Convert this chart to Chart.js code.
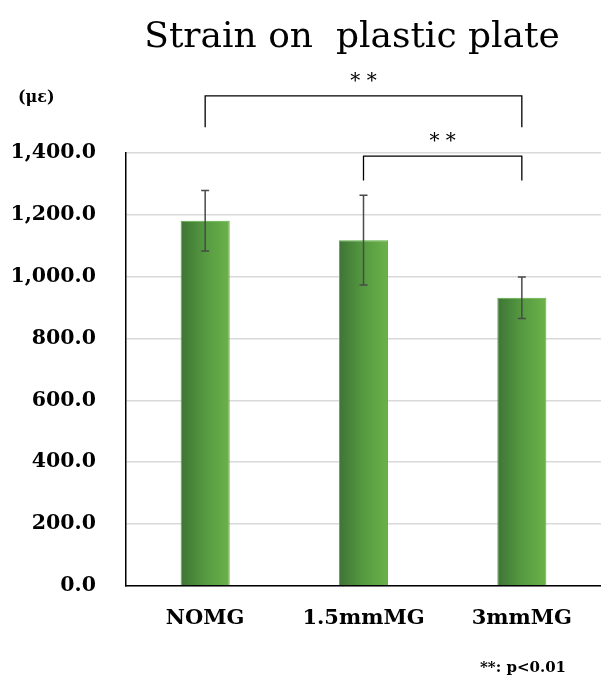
<!DOCTYPE html>
<html>
<head>
<meta charset="utf-8">
<script src="https://cdn.jsdelivr.net/npm/chart.js@4"></script>
<style>
  html, body { margin: 0; padding: 0; background: #fff; }
  #wrap { width: 601px; height: 679px; }
</style>
</head>
<body>
<div id="wrap"><canvas id="strainChart" width="601" height="679"></canvas></div>
<script>
// data
const categories = ['NOMG', '1.5mmMG', '3mmMG'];
const means = [1181, 1118, 932];
const errors = [98, 145, 67];
const yTicks = [0, 200, 400, 600, 800, 1000, 1200, 1400];

// significance brackets (category indices, heights in axis units)
const bracketFrom = [0, 1];
const bracketTo = [2, 2];
const bracketTop = [1585, 1390];
const bracketEnd = [1483, 1311];
const bracketMarks = ['* *', '* *'];

const serif = '"DejaVu Serif", "Liberation Serif", serif';

function barFill(c) {
    const chart = c.chart;
    const xs = chart.scales.x;
    if (!xs || c.dataIndex == null) return '#559a42';
    const cx = xs.getPixelForValue(c.dataIndex);
    const half = xs.width / categories.length * 0.31 / 2;
    if (!isFinite(cx) || !isFinite(half) || half <= 0) return '#559a42';
    const g = chart.ctx.createLinearGradient(cx - half, 0, cx + half, 0);
    g.addColorStop(0, '#3e7435');
    g.addColorStop(0.5, '#559a40');
    g.addColorStop(1, '#6cb24a');
    return g;
}

const extras = {
    id: 'extras',
    afterDatasetsDraw(chart) {
        const { ctx, scales: { x, y } } = chart;
        ctx.save();
        // error bars
        ctx.strokeStyle = '#4a4a4a';
        ctx.lineWidth = 1.5;
        means.forEach((m, i) => {
            const cx = x.getPixelForValue(i);
            const top = y.getPixelForValue(m + errors[i]);
            const bot = y.getPixelForValue(m - errors[i]);
            ctx.beginPath();
            ctx.moveTo(cx, top); ctx.lineTo(cx, bot);
            ctx.moveTo(cx - 4, top); ctx.lineTo(cx + 4, top);
            ctx.moveTo(cx - 4, bot); ctx.lineTo(cx + 4, bot);
            ctx.stroke();
        });
        ctx.restore();
    },
    afterDraw(chart) {
        const { ctx, scales: { x, y } } = chart;
        ctx.save();
        // brackets
        ctx.strokeStyle = '#000';
        ctx.lineWidth = 1.3;
        ctx.fillStyle = '#000';
        ctx.font = '20px ' + serif;
        ctx.textAlign = 'center';
        ctx.textBaseline = 'middle';
        bracketFrom.forEach((f, i) => {
            const x1 = x.getPixelForValue(f);
            const x2 = x.getPixelForValue(bracketTo[i]);
            const yt = y.getPixelForValue(bracketTop[i]);
            const ye = y.getPixelForValue(bracketEnd[i]);
            ctx.beginPath();
            ctx.moveTo(x1, ye); ctx.lineTo(x1, yt); ctx.lineTo(x2, yt); ctx.lineTo(x2, ye);
            ctx.stroke();
            ctx.fillText(bracketMarks[i], (x1 + x2) / 2, yt - 14);
        });
        // title
        ctx.font = '36px ' + serif;
        ctx.fillText('Strain on  plastic plate', 352, 38);
        // unit
        ctx.font = 'bold 16px ' + serif;
        ctx.textAlign = 'left';
        ctx.fillText('(με)', 18, 98);
        // footnote
        ctx.font = 'bold 15px ' + serif;
        ctx.textAlign = 'right';
        ctx.fillText('**: p<0.01', 566, 668);
        ctx.restore();
    }
};

new Chart(document.getElementById('strainChart'), {
    type: 'bar',
    data: {
        labels: categories,
        datasets: [{
            data: means,
            backgroundColor: barFill,
            borderColor: '#5aae3e',
            borderWidth: 1,
            categoryPercentage: 1,
            barPercentage: 0.31
        }]
    },
    options: {
        responsive: false,
        animation: false,
        layout: { padding: { top: 153, right: 0, bottom: 28, left: 0 } },
        plugins: { legend: { display: false }, tooltip: { enabled: false } },
        scales: {
            x: {
                grid: { display: false, drawTicks: false },
                border: { display: true, color: '#000', width: 1.5 },
                ticks: { color: '#000', padding: 20, font: { family: serif, size: 21, weight: 'bold' } }
            },
            y: {
                min: 0,
                max: 1400,
                afterBuildTicks(scale) { scale.ticks = yTicks.map(v => ({ value: v })); },
                afterFit(scale) { scale.width = 126; },
                grid: { color: '#d9d9d9', lineWidth: 1.5, drawTicks: false },
                border: { display: true, color: '#000', width: 1.5 },
                ticks: {
                    color: '#000',
                    padding: 30,
                    font: { family: serif, size: 20.5, weight: 'bold' },
                    callback: v => v.toLocaleString('en-US', { minimumFractionDigits: 1, maximumFractionDigits: 1 })
                }
            }
        }
    },
    plugins: [extras]
});
</script>
</body>
</html>
